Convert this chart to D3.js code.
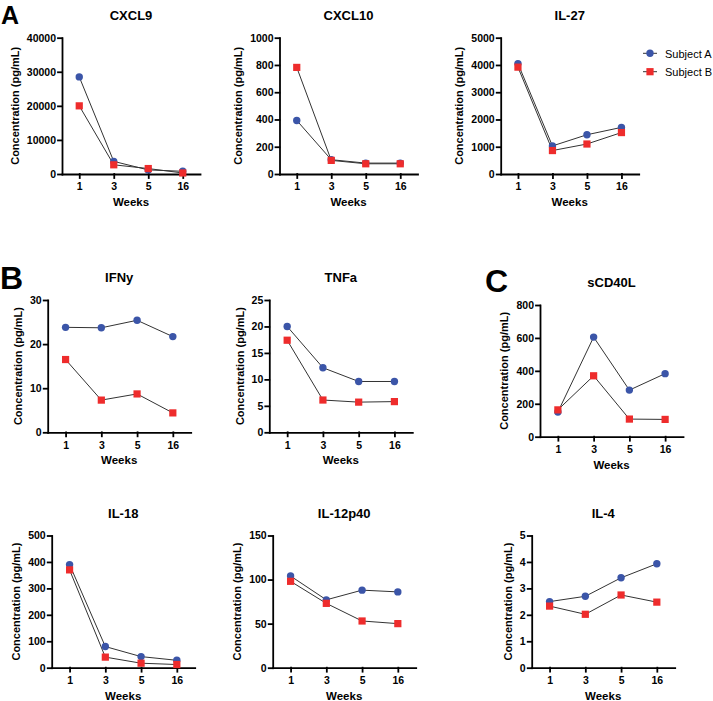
<!DOCTYPE html>
<html>
<head>
<meta charset="utf-8">
<script src="https://cdn.jsdelivr.net/npm/d3@7"></script>
<style>
body { margin:0; background:#fff; }
svg { font-family: 'Liberation Sans', Arial, Helvetica, sans-serif; }
.axis path, .axis line { stroke:#000; stroke-width:1.8px; stroke-linecap:square; }
.axis text { font-size:10.5px; font-weight:bold; fill:#000; }
</style>
</head>
<body>
<svg id="drawing_region"></svg>
<script>
// weeks on the x axis
const weeks = ['1', '3', '5', '16'];
const seriesNames = ['Subject A', 'Subject B'];

// values (pg/mL)
const cxcl9A = [28500, 3700, 1200, 800];
const cxcl9B = [20000, 2700, 1600, 300];
const cxcl10A = [393, 105, 80, 80];
const cxcl10B = [782, 100, 75, 75];
const il27A = [4050, 1030, 1440, 1710];
const il27B = [3920, 860, 1100, 1520];
const ifnyA = [23.8, 23.7, 25.4, 21.7];
const ifnyB = [16.5, 7.3, 8.7, 4.4];
const tnfaA = [20.0, 12.2, 9.6, 9.6];
const tnfaB = [17.4, 6.1, 5.7, 5.8];
const scd40lA = [150, 605, 283, 383];
const scd40lB = [163, 370, 107, 105];
const il18A = [390, 80, 42, 28];
const il18B = [370, 40, 17, 12];
const il12A = [104, 77, 88, 86];
const il12B = [98, 73, 53, 50];
const il4A = [2.5, 2.7, 3.4, 3.93];
const il4B = [2.33, 2.02, 2.75, 2.48];

// y tick labels
const cxcl9Ticks = [0, 10000, 20000, 30000, 40000];
const cxcl10Ticks = [0, 200, 400, 600, 800, 1000];
const il27Ticks = [0, 1000, 2000, 3000, 4000, 5000];
const ifnyTicks = [0, 10, 20, 30];
const tnfaTicks = [0, 5, 10, 15, 20, 25];
const scd40lTicks = [0, 200, 400, 600, 800];
const il18Ticks = [0, 100, 200, 300, 400, 500];
const il12Ticks = [0, 50, 100, 150];
const il4Ticks = [0, 1, 2, 3, 4, 5];

const colors = ['#3b55a8', '#ee2c2c'];

const svg = d3.select('#drawing_region')
    .attr('width', 713)
    .attr('height', 701);

class LinePanel {

    constructor( config, a, b, ticks ) {
        this.config = config;
        this.a = a;
        this.b = b;
        this.ticks = ticks;
        this.init();
    }

    init() {
        let self = this;
        const c = self.config;

        self.chart = svg.append('g')
            .attr('transform', `translate(${c.x}, ${c.top})`);

        self.inner_height = c.bottom - c.top;

        self.xscale = d3.scalePoint()
            .domain( weeks )
            .range( [0, c.w] )
            .padding(0.5);

        self.yscale = d3.scaleLinear()
            .domain( [0, d3.max(self.ticks)] )
            .range( [self.inner_height, 0] );

        self.xaxis = d3.axisBottom( self.xscale )
            .tickSize(4)
            .tickSizeOuter(0)
            .tickPadding(5);

        self.yaxis = d3.axisLeft( self.yscale )
            .tickValues( self.ticks )
            .tickFormat( d3.format('d') )
            .tickSize(4)
            .tickSizeOuter(0)
            .tickPadding(2);
    }

    render() {
        let self = this;
        const c = self.config;

        self.xaxis_group = self.chart.append('g')
            .attr('class', 'axis')
            .attr('transform', `translate(0, ${self.inner_height})`)
            .call( self.xaxis );

        self.yaxis_group = self.chart.append('g')
            .attr('class', 'axis')
            .call( self.yaxis );

        const line = d3.line()
            .x( (d, i) => self.xscale( weeks[i] ) )
            .y( d => self.yscale( d ) );

        [self.a, self.b].forEach( vals => {
            self.chart.append('path')
                .attr('d', line( vals ))
                .attr('fill', 'none')
                .attr('stroke', '#333')
                .attr('stroke-width', 1);
        });

        self.chart.selectAll('circle')
            .data( self.a )
            .enter()
            .append('circle')
            .attr('cx', (d, i) => self.xscale( weeks[i] ))
            .attr('cy', d => self.yscale( d ))
            .attr('r', 3.7)
            .style('fill', colors[0]);

        self.chart.selectAll('.sq')
            .data( self.b )
            .enter()
            .append('path')
            .attr('class', 'sq')
            .attr('d', d3.symbol(d3.symbolSquare, 52))
            .attr('transform', (d, i) => `translate(${self.xscale( weeks[i] )}, ${self.yscale( d )})`)
            .style('fill', colors[1]);

        // title
        self.chart.append('text')
            .attr('text-anchor', 'middle')
            .attr('x', c.w / 2)
            .attr('y', -18)
            .style('font-size', '13px')
            .style('font-weight', 'bold')
            .text( c.title );

        // x label
        self.chart.append('text')
            .attr('text-anchor', 'middle')
            .attr('x', c.w / 2)
            .attr('y', self.inner_height + 32)
            .style('font-size', '11.5px')
            .style('font-weight', 'bold')
            .text('Weeks');

        // y label, placed left of the widest tick label
        const bb = self.yaxis_group.node().getBBox();
        self.chart.append('text')
            .attr('text-anchor', 'middle')
            .attr('transform', `translate(${bb.x - 8}, ${self.inner_height / 2}) rotate(-90)`)
            .style('font-size', '11px')
            .style('font-weight', 'bold')
            .text('Concentration (pg/mL)');
    }
}

const panels = [
    [{title:'CXCL9', x:62, top:37.7, bottom:174, w:138}, cxcl9A, cxcl9B, cxcl9Ticks],
    [{title:'CXCL10', x:279.5, top:37.7, bottom:174, w:138}, cxcl10A, cxcl10B, cxcl10Ticks],
    [{title:'IL-27', x:500.7, top:37.7, bottom:174, w:138}, il27A, il27B, il27Ticks],
    [{title:'IFNy', x:47.7, top:300, bottom:432.3, w:143}, ifnyA, ifnyB, ifnyTicks],
    [{title:'TNFa', x:269.3, top:300, bottom:432.3, w:143}, tnfaA, tnfaB, tnfaTicks],
    [{title:'sCD40L', x:540, top:305, bottom:436.7, w:143}, scd40lA, scd40lB, scd40lTicks],
    [{title:'IL-18', x:51.7, top:535.5, bottom:667.7, w:143}, il18A, il18B, il18Ticks],
    [{title:'IL-12p40', x:272.7, top:535.5, bottom:667.7, w:143}, il12A, il12B, il12Ticks],
    [{title:'IL-4', x:531.7, top:535.5, bottom:667.7, w:143}, il4A, il4B, il4Ticks]
];

panels.forEach( p => {
    const panel = new LinePanel( p[0], p[1], p[2], p[3] );
    panel.render();
});

// panel letters
[['A', 1, 24, 25], ['B', 0, 288.5, 32], ['C', 485, 291.5, 32]].forEach( l => {
    svg.append('text')
        .attr('x', l[1])
        .attr('y', l[2])
        .style('font-size', l[3] + 'px')
        .style('font-weight', 'bold')
        .text(l[0]);
});

// legend
const legend = svg.append('g');
seriesNames.forEach( (name, i) => {
    const y = 53.3 + i * 18.4;
    legend.append('line')
        .attr('x1', 643).attr('x2', 657)
        .attr('y1', y).attr('y2', y)
        .attr('stroke', '#333')
        .attr('stroke-width', 1);
    if (i === 0) {
        legend.append('circle')
            .attr('cx', 650).attr('cy', y).attr('r', 3.7)
            .style('fill', colors[0]);
    } else {
        legend.append('path')
            .attr('d', d3.symbol(d3.symbolSquare, 52))
            .attr('transform', `translate(650, ${y})`)
            .style('fill', colors[1]);
    }
    legend.append('text')
        .attr('x', 665)
        .attr('y', y + 4.5)
        .style('font-size', '11px')
        .text(name);
});
</script>
</body>
</html>
